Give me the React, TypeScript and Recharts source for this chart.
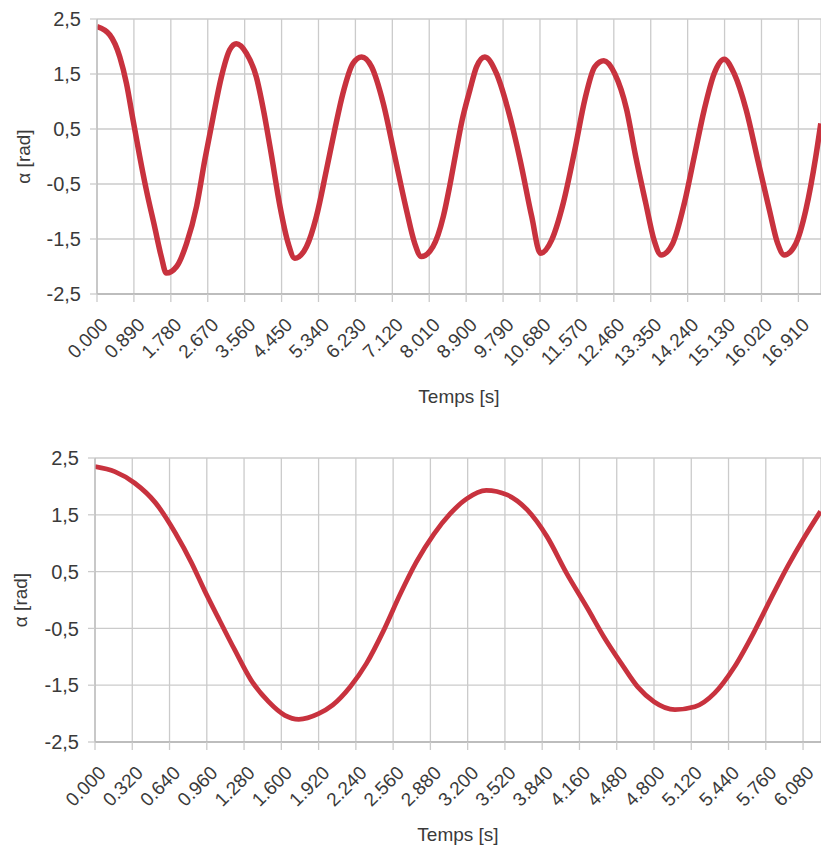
import { LineChart, Line, XAxis, YAxis, CartesianGrid, Label } from 'recharts'

// upper run: long record, 0 to ~17.5 s
const topTime = [
  0, 0.31, 0.55, 0.71, 0.87, 1.03, 1.19, 1.39, 1.55, 1.67, 1.92, 2.16, 2.4, 2.6, 2.8, 3.0, 3.2, 3.36,
  3.6, 3.84, 4.02, 4.2, 4.41, 4.61, 4.77, 5.05, 5.29, 5.53, 5.73, 5.93, 6.17, 6.38, 6.62, 6.9, 7.18,
  7.46, 7.66, 7.82, 8.1, 8.35, 8.5, 8.64, 8.8, 8.99, 9.15, 9.35, 9.63, 9.91, 10.2, 10.48, 10.69, 10.96,
  11.24, 11.52, 11.76, 12.0, 12.22, 12.48, 12.77, 12.98, 13.23, 13.43, 13.6, 13.88, 14.16, 14.4, 14.64,
  14.88, 15.12, 15.36, 15.65, 15.93, 16.21, 16.41, 16.57, 16.85, 17.09, 17.33, 17.45,
]
const topAlpha = [
  2.36, 2.21, 1.81, 1.33, 0.66, 0.0, -0.61, -1.28, -1.82, -2.12, -2.0, -1.58, -0.91, -0.06, 0.72, 1.45, 1.94, 2.05,
  1.88, 1.45, 0.82, 0.05, -0.9, -1.58, -1.85, -1.64, -1.09, -0.25, 0.48, 1.15, 1.69, 1.81, 1.63, 0.97, 0.0,
  -0.97, -1.58, -1.82, -1.64, -1.09, -0.55, 0.02, 0.65, 1.21, 1.63, 1.81, 1.51, 0.85, -0.06, -1.09, -1.76, -1.52,
  -0.85, 0.12, 1.03, 1.63, 1.74, 1.51, 0.85, 0.03, -0.85, -1.52, -1.79, -1.58, -0.85, 0.0, 0.85,
  1.51, 1.77, 1.51, 0.85, -0.06, -0.97, -1.58, -1.79, -1.58, -0.97, 0.0, 0.6,
]

// lower run: zoom on the first ~6.2 s
const bottomTime = [
  0, 0.17, 0.34, 0.52, 0.69, 0.83, 0.94, 1.06, 1.2, 1.34, 1.49, 1.63, 1.75, 1.92, 2.04, 2.19, 2.33,
  2.48, 2.62, 2.76, 2.91, 3.05, 3.19, 3.36, 3.54, 3.71, 3.88, 4.05, 4.23, 4.37, 4.52, 4.66, 4.8, 4.98,
  5.15, 5.32, 5.49, 5.66, 5.81, 5.95, 6.09, 6.23,
]
const bottomAlpha = [
  2.35, 2.26, 2.06, 1.71, 1.18, 0.65, 0.17, -0.32, -0.88, -1.41, -1.79, -2.03, -2.1, -2.0, -1.85, -1.53, -1.12,
  -0.53, 0.1, 0.67, 1.16, 1.52, 1.78, 1.93, 1.85, 1.59, 1.12, 0.47, -0.15, -0.65, -1.12, -1.53, -1.79, -1.93,
  -1.88, -1.64, -1.18, -0.56, 0.05, 0.6, 1.1, 1.56,
]

const topTicks = [
  0, 0.89, 1.78, 2.67, 3.56, 4.45, 5.34, 6.23, 7.12, 8.01, 8.9, 9.79, 10.68, 11.57, 12.46, 13.35,
  14.24, 15.13, 16.02, 16.91,
]
const bottomTicks = [
  0, 0.32, 0.64, 0.96, 1.28, 1.6, 1.92, 2.24, 2.56, 2.88, 3.2, 3.52, 3.84, 4.16, 4.48, 4.8, 5.12,
  5.44, 5.76, 6.08,
]
const alphaTicks = [-2.5, -1.5, -0.5, 0.5, 1.5, 2.5]

const toRows = (t: number[], a: number[]) => t.map((x, i) => ({ t: x, a: a[i] }))

const FONT = '"Liberation Sans", Arial, sans-serif'
const TEXT = '#3a3a3a'
const GRID = '#cbcbcb'
const RED = '#c8323e'

const TimeTick = ({ x, y, payload }: any) => (
  <text transform={`translate(${x + 12},${y + 24}) rotate(-45)`} textAnchor="end"
    fontSize={19} fill={TEXT} fontFamily={FONT}>
    {Number(payload.value).toFixed(3)}
  </text>
)

function Panel({ rows, ticks, tMax, top, marginTop, plotH, yWidth, axisH, labelX, lineW }: any) {
  return (
    <div style={{ position: 'absolute', left: 0, top }}>
      <LineChart width={821} height={marginTop + plotH + axisH} data={rows}
        margin={{ top: marginTop, right: 0, bottom: 0, left: 0 }}>
        <CartesianGrid stroke={GRID} strokeWidth={1.3} />
        <XAxis dataKey="t" type="number" domain={[0, tMax]} allowDataOverflow ticks={ticks}
          interval={0} height={axisH} tickSize={8} tickMargin={0}
          axisLine={{ stroke: '#b4b4b4', strokeWidth: 1.5 }} tickLine={{ stroke: GRID, strokeWidth: 1.3 }}
          tick={<TimeTick />}>
          <Label value="Temps [s]" position="insideBottom" offset={6}
            style={{ fontSize: 19, fill: TEXT, fontFamily: FONT }} />
        </XAxis>
        <YAxis type="number" domain={[-2.5, 2.5]} ticks={alphaTicks} interval={0} width={yWidth}
          tickSize={7} tickMargin={9}
          axisLine={{ stroke: '#bdbdbd', strokeWidth: 1.3 }} tickLine={{ stroke: GRID, strokeWidth: 1.3 }}
          tickFormatter={(v: number) => String(v).replace('.', ',')}
          tick={{ fontSize: 20, fill: TEXT, fontFamily: FONT }}>
          <Label content={({ viewBox }: any) => (
            <text transform={`translate(${labelX},${viewBox.y + viewBox.height / 2}) rotate(-90)`}
              textAnchor="middle" dominantBaseline="central"
              fontSize={19} fill={TEXT} fontFamily={FONT}>α [rad]</text>
          )} />
        </YAxis>
        <Line type="monotone" dataKey="a" stroke={RED} strokeWidth={lineW} dot={false}
          strokeLinejoin="round" isAnimationActive={false} />
      </LineChart>
    </div>
  )
}

export default function App() {
  return (
    <div style={{ position: 'absolute', left: 0, top: 0, width: 821, height: 850, background: '#fff' }}>
      <Panel rows={toRows(topTime, topAlpha)} ticks={topTicks} tMax={17.455} lineW={5.5}
        top={0} marginTop={19} plotH={275} yWidth={97} axisH={115} labelX={23} />
      <Panel rows={toRows(bottomTime, bottomAlpha)} ticks={bottomTicks} tMax={6.234} lineW={4.8}
        top={430} marginTop={28} plotH={284} yWidth={95} axisH={105} labelX={20} />
    </div>
  )
}
